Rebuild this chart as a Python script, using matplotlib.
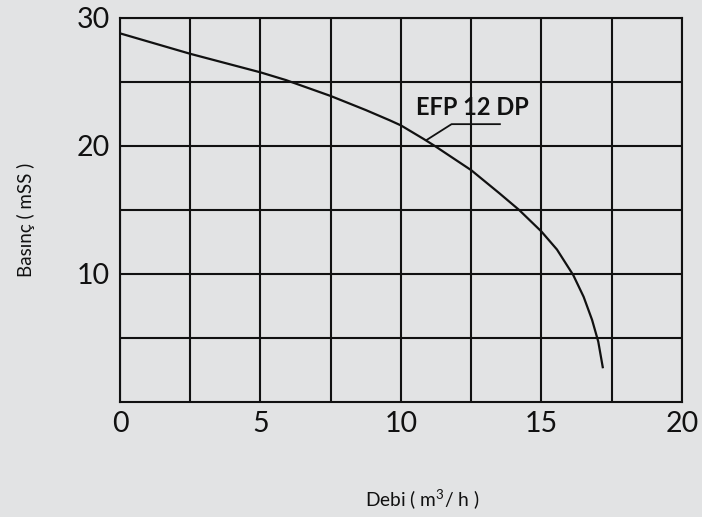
"""pump curve EFP 12 DP: basinc vs debi"""

import matplotlib.pyplot as plt
import matplotlib as mpl

# curve
debi = [0, 2.5, 5, 5.9, 7.5, 8.75, 9.6, 10, 10.8, 11.2, 12.5, 13.5, 14.2,
        15, 15.55, 16.13, 16.5, 16.8, 17.02, 17.18]
basinc = [28.8, 27.2, 25.75, 25.15, 23.9, 22.8, 22.0, 21.6, 20.55, 20.0,
          18.1, 16.3, 15.0, 13.3, 11.9, 9.9, 8.2, 6.4, 4.7, 2.7]

x_ticks = [0, 5, 10, 15, 20]
x_minor = [2.5, 7.5, 12.5, 17.5]
y_ticks = [10, 20, 30]
y_minor = [5, 15, 25]

label_xy = (12.54, 23.0)
leader_x = [10.91, 11.8, 13.52]
leader_y = [20.46, 21.7, 21.7]

bg = '#e2e3e4'
mpl.rcParams['font.family'] = ['Lato', 'DejaVu Sans']

fig = plt.figure(figsize=(7.02, 5.17), dpi=100, facecolor=bg)
ax = fig.add_axes([0.1709, 0.2230, 0.8006, 0.7422], facecolor=bg)

ax.set_xlim(0, 20)
ax.set_ylim(0, 30)
ax.set_xticks(x_ticks)
ax.set_xticks(x_minor, minor=True)
ax.set_yticks(y_ticks)
ax.set_yticks(y_minor, minor=True)
ax.grid(which='both', color='#111111', lw=1.5)
ax.set_axisbelow(True)
ax.tick_params(which='both', length=0, labelsize=20.5, colors='#111111')
ax.tick_params(axis='x', pad=7)
ax.tick_params(axis='y', pad=7)
for s in ax.spines.values():
    s.set_color('#111111')
    s.set_linewidth(1.5)

ax.plot(debi, basinc, color='#111111', lw=1.6)
ax.plot(leader_x, leader_y, color='#111111', lw=1.3)
ax.text(*label_xy, 'EFP 12 DP', fontsize=17, fontweight='bold',
        ha='center', va='center', color='#111111')

fig.text(26 / 702, 1 - 220 / 517, 'Basınç ( mSS )', rotation=90,
         fontsize=13.5, ha='center', va='center', color='#111111')
fig.text(422 / 702, 1 - 500 / 517, r'Debi ( m$^{\mathregular{3}}$/ h )',
         fontsize=13.8, ha='center', va='center', color='#111111')

fig.savefig('out.png', dpi=100, facecolor=bg)
